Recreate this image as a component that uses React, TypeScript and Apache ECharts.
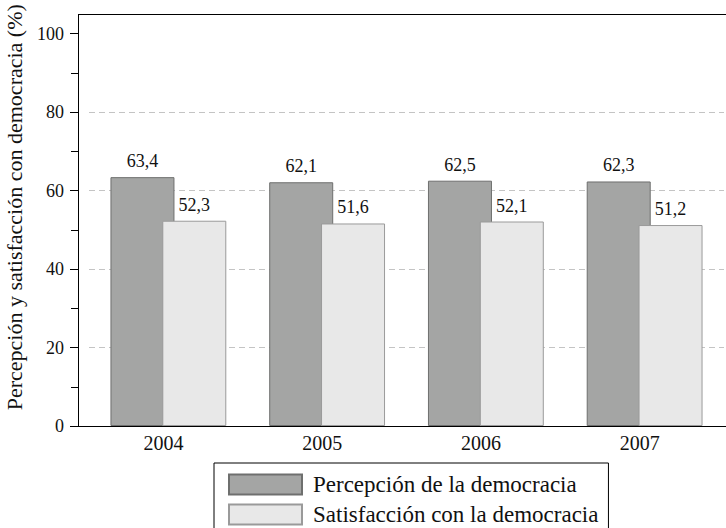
import React, { useEffect, useRef } from "react";
import * as echarts from "echarts";

const categories = ["2004", "2005", "2006", "2007"];
const percepcion = [63.4, 62.1, 62.5, 62.3];
const satisfaccion = [52.3, 51.6, 52.1, 51.2];
const seriesNames = ["Percepción de la democracia", "Satisfacción con la democracia"];
const yAxisTitle = "Percepción y satisfacción con democracia (%)";

const FONT = "'Liberation Serif', 'Times New Roman', serif";

export default function App() {
  const ref = useRef<HTMLDivElement>(null);
  useEffect(() => {
    if (!ref.current) return;
    const chart = echarts.init(ref.current, null, { renderer: "svg" });
    const fmt = (p: any) => String(p.value).replace(".", ",");
    chart.setOption({
      animation: false,
      backgroundColor: "#ffffff",
      textStyle: { fontFamily: FONT },
      grid: { left: 89, right: 2, top: 33.5, bottom: 102, containLabel: false, outerBoundsMode: "none" },
      xAxis: {
        type: "category",
        data: categories,
        axisLine: { show: false },
        axisTick: { show: false },
        axisLabel: { fontSize: 20, color: "#111", margin: 7, fontFamily: FONT, padding: [0, 10, 0, 0] },
      },
      yAxis: {
        type: "value",
        min: 0,
        max: 100,
        interval: 20,
        offset: 11,
        axisLine: { show: true, lineStyle: { color: "#000", width: 1 } },
        axisTick: { show: true, length: 8, lineStyle: { color: "#000" } },
        minorTick: { show: true, splitNumber: 2, length: 7, lineStyle: { color: "#000" } },
        axisLabel: { fontSize: 18, color: "#111", margin: 14, fontFamily: FONT },
        splitLine: {
          show: true,
          lineStyle: {
            type: [6, 4],
            width: 1,
            color: ["transparent", "#c4c4c4", "#c4c4c4", "#c4c4c4", "#c4c4c4", "transparent"],
          },
        },
        name: yAxisTitle,
        nameLocation: "middle",
        nameGap: 53,
        nameTextStyle: { fontSize: 22, color: "#111", fontFamily: FONT, padding: [0, 0, 0, 45] },
      },
      legend: {
        data: seriesNames,
        orient: "vertical",
        left: 214,
        top: 463,
        height: 60,
        itemWidth: 73,
        itemHeight: 20,
        itemGap: 7,
        padding: [10, 10, 14, 14],
        borderColor: "#000",
        borderWidth: 1,
        borderRadius: 0,
        icon: "rect",
        selectedMode: false,
        textStyle: { fontSize: 23, lineHeight: 20, color: "#111", fontFamily: FONT, padding: [0, 0, 0, 6] },
      },
      series: [
        {
          name: seriesNames[0],
          type: "bar",
          data: percepcion,
          barWidth: 64,
          barGap: "-19%",
          itemStyle: { color: "#a4a5a4", borderColor: "#6e6f6e", borderWidth: 1 },
          label: { show: true, position: "top", distance: 7, fontSize: 18, color: "#111", fontFamily: FONT, formatter: fmt },
        },
        {
          name: seriesNames[1],
          type: "bar",
          data: satisfaccion,
          barWidth: 64,
          barGap: "-19%",
          itemStyle: { color: "#e8e8e8", borderColor: "#9a9a9a", borderWidth: 1 },
          label: { show: true, position: "top", distance: 7, fontSize: 18, color: "#111", fontFamily: FONT, formatter: fmt },
        },
      ],
      graphic: [
        { type: "line", shape: { x1: 78, y1: 14.5, x2: 726, y2: 14.5 }, style: { stroke: "#000", lineWidth: 1 }, silent: true },
        { type: "line", shape: { x1: 78.5, y1: 14, x2: 78.5, y2: 34 }, style: { stroke: "#000", lineWidth: 1 }, silent: true },
        { type: "line", shape: { x1: 78, y1: 426.5, x2: 726, y2: 426.5 }, style: { stroke: "#000", lineWidth: 1 }, silent: true, z: 10 },
      ],
    });
    return () => chart.dispose();
  }, []);
  return <div ref={ref} style={{ position: "fixed", left: 0, top: 0, width: 726, height: 528 }} />;
}
